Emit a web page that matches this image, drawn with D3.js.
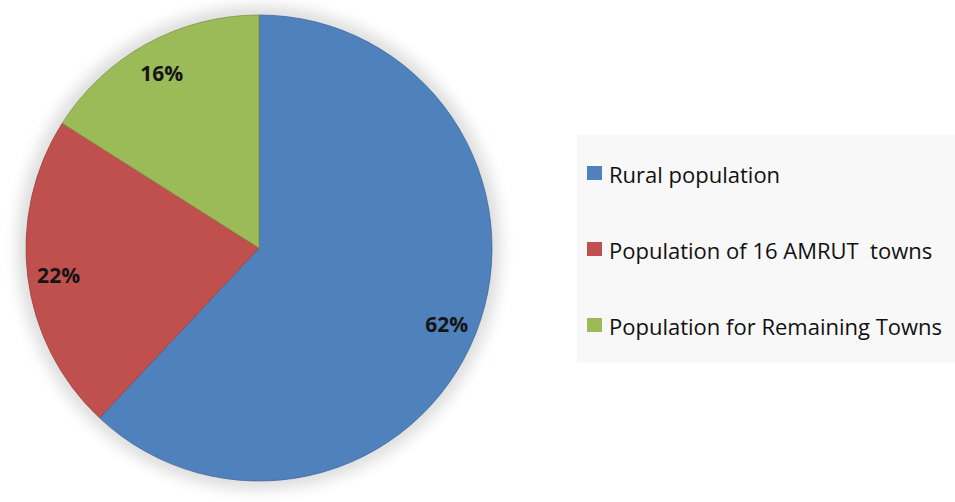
<!DOCTYPE html>
<html><head><meta charset="utf-8">
<script src="https://cdn.jsdelivr.net/npm/d3@7"></script>
<style>body{margin:0;background:#fff}svg{display:block}</style>
</head><body>
<svg id="c" width="955" height="502"></svg>
<script>
const categories = ["Rural population", "Population of 16 AMRUT  towns", "Population for Remaining Towns"];
const values = [62, 22, 16];
const colors = ["#4F81BD", "#C0504D", "#9BBB59"];
const labels = ["62%", "22%", "16%"];

const svg = d3.select("#c");
const defs = svg.append("defs");
const f = defs.append("filter").attr("id","sh").attr("x","-15%").attr("y","-15%").attr("width","130%").attr("height","130%");
f.append("feGaussianBlur").attr("stdDeviation", 7);

const cx = 259, cy = 248, R = 233;
const g = svg.append("g").attr("transform", `translate(${cx},${cy})`);
g.append("circle").attr("r", R + 9).attr("fill", "#dedede").attr("filter", "url(#sh)");

const data = categories.map((c, i) => ({cat: c, value: values[i], color: colors[i], label: labels[i]}));
const pie = d3.pie().value(d => d.value).sort(null);
const arc = d3.arc().innerRadius(0).outerRadius(R);
const labelArc = d3.arc().innerRadius(202).outerRadius(202);
const arcs = pie(data);

g.selectAll("path.slice").data(arcs).join("path")
  .attr("class","slice").attr("d", arc)
  .attr("fill", d => d.data.color)
  .attr("stroke", d => d3.color(d.data.color).darker(0.6)).attr("stroke-width", 0.8);

g.selectAll("text.lbl").data(arcs).join("text")
  .attr("class","lbl")
  .attr("transform", d => { const p = labelArc.centroid(d); return `translate(${p[0]},${p[1] + 2})`; })
  .attr("text-anchor","middle").attr("dominant-baseline","central")
  .attr("font-family","'Open Sans', sans-serif").attr("font-weight","bold").attr("font-size", 21)
  .attr("fill", "#151515")
  .text(d => d.data.label);

// legend
const lg = svg.append("g");
lg.append("rect").attr("x", 577).attr("y", 135).attr("width", 378).attr("height", 228).attr("fill", "#f8f8f8");
const rowY = d3.scalePoint().domain(categories).range([173, 325]);
const items = lg.selectAll("g.item").data(data).join("g").attr("class","item")
  .attr("transform", d => `translate(587,${rowY(d.cat)})`);
items.append("rect").attr("x", 0).attr("y", -7).attr("width", 15).attr("height", 14).attr("fill", d => d.color);
items.append("text").attr("x", 22).attr("y", 1).attr("dominant-baseline","central")
  .attr("font-family","'Open Sans', sans-serif").attr("font-size", 22).attr("fill", "#111")
  .attr("xml:space","preserve")
  .text(d => d.cat);
</script>
</body></html>
